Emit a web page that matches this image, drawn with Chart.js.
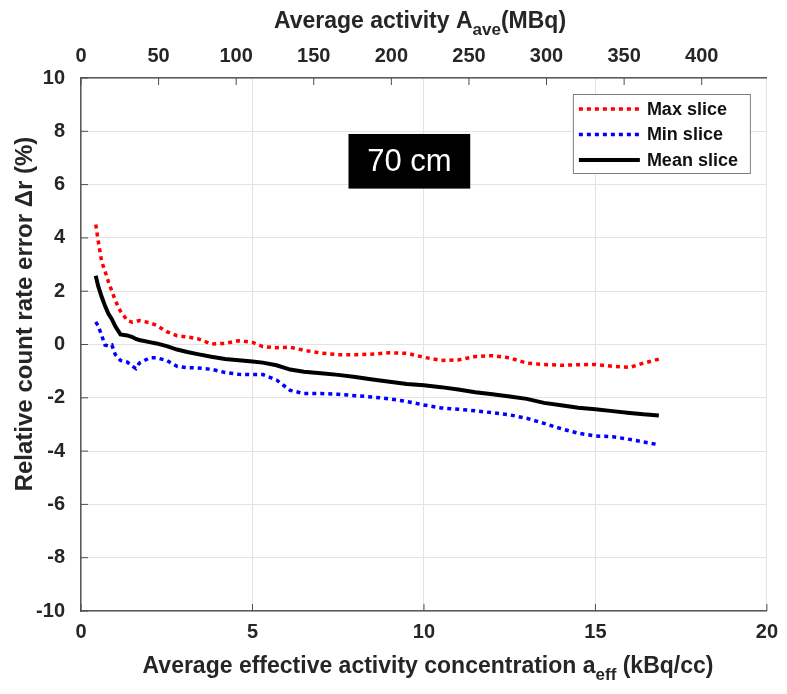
<!DOCTYPE html>
<html>
<head>
<meta charset="utf-8">
<script src="https://cdn.jsdelivr.net/npm/chart.js@4/dist/chart.umd.min.js"></script>
<style>
  html, body { margin: 0; padding: 0; background: #fff; }
  #wrap { width: 787px; height: 694px; }
</style>
</head>
<body>
<div id="wrap"><canvas id="rateChart"></canvas></div>
<script>
// concentration a_eff (kBq/cc)
const concValues = [0.43, 0.5, 0.6, 0.7, 0.8, 0.9, 1.0, 1.15, 1.35, 1.5, 1.6, 1.7, 2.0, 2.2, 2.5, 2.8, 3.1, 3.4, 3.8, 4.2, 4.6, 5.0, 5.3, 5.7, 6.1, 6.5, 7.0, 7.5, 8.0, 8.5, 9.0, 9.5, 10.0, 10.5, 11.0, 11.5, 12.0, 12.5, 13.0, 13.5, 14.0, 14.5, 15.0, 15.5, 16.0, 16.4, 16.85];
const maxSlice = [4.5, 3.9, 3.13, 2.75, 2.35, 2.0, 1.65, 1.25, 0.9, 0.84, 0.86, 0.9, 0.82, 0.72, 0.48, 0.33, 0.28, 0.22, 0.02, 0.04, 0.14, 0.08, -0.08, -0.12, -0.1, -0.22, -0.32, -0.38, -0.38, -0.36, -0.31, -0.33, -0.48, -0.6, -0.58, -0.45, -0.42, -0.5, -0.7, -0.75, -0.78, -0.76, -0.75, -0.82, -0.86, -0.7, -0.55];
const minSlice = [0.85, 0.7, 0.35, -0.02, -0.06, -0.02, -0.38, -0.6, -0.66, -0.82, -0.9, -0.7, -0.5, -0.5, -0.6, -0.82, -0.87, -0.88, -0.93, -1.05, -1.12, -1.13, -1.13, -1.33, -1.72, -1.84, -1.84, -1.87, -1.92, -1.97, -2.04, -2.14, -2.27, -2.38, -2.43, -2.49, -2.56, -2.64, -2.77, -2.96, -3.16, -3.33, -3.43, -3.46, -3.56, -3.66, -3.76];
const meanSlice = [2.58, 2.2, 1.8, 1.45, 1.15, 0.95, 0.68, 0.38, 0.34, 0.28, 0.21, 0.17, 0.09, 0.04, -0.06, -0.19, -0.28, -0.36, -0.46, -0.54, -0.59, -0.64, -0.68, -0.78, -0.94, -1.02, -1.08, -1.14, -1.22, -1.31, -1.4, -1.48, -1.53, -1.6, -1.69, -1.79, -1.87, -1.95, -2.04, -2.19, -2.28, -2.37, -2.43, -2.5, -2.57, -2.62, -2.66];

const seriesNames = ['Max slice', 'Min slice', 'Mean slice'];
const boxLabel = '70 cm';
const boxRange = { x0: 7.8, x1: 11.35, y0: 5.85, y1: 7.9 };

const textColor = '#262626';
const fontFamily = '"Liberation Sans", Arial, sans-serif';

function toPoints(ys) {
    return concValues.map((x, i) => ({ x: x, y: ys[i] }));
}

// draws "main" + subscript + "rest", centered at cx
function subTitle(ctx, main, sub, rest, cx, cy, size, angle) {
    ctx.save();
    ctx.translate(cx, cy);
    if (angle) ctx.rotate(angle);
    const big = 'bold ' + size + 'px ' + fontFamily;
    const small = 'bold ' + Math.round(size * 0.72) + 'px ' + fontFamily;
    ctx.font = big;
    const w1 = ctx.measureText(main).width;
    const w3 = ctx.measureText(rest).width;
    ctx.font = small;
    const w2 = ctx.measureText(sub).width;
    let x = -(w1 + w2 + w3) / 2;
    ctx.fillStyle = textColor;
    ctx.textBaseline = 'middle';
    ctx.textAlign = 'left';
    ctx.font = big;
    ctx.fillText(main, x, 0);
    x += w1;
    ctx.font = small;
    ctx.fillText(sub, x, size * 0.38);
    x += w2;
    ctx.font = big;
    ctx.fillText(rest, x, 0);
    ctx.restore();
}

const decorations = {
    id: 'decorations',
    afterDraw(chart) {
        const ctx = chart.ctx;
        const area = chart.chartArea;
        const xs = chart.scales.x, ys = chart.scales.y, xt = chart.scales.xTop;

        // inward ticks
        ctx.save();
        ctx.strokeStyle = '#4d4d4d';
        ctx.lineWidth = 1;
        ctx.beginPath();
        ys.ticks.forEach(t => {
            const p = ys.getPixelForValue(t.value);
            ctx.moveTo(area.left, p); ctx.lineTo(area.left + 7, p);
        });
        xs.ticks.forEach(t => {
            const p = xs.getPixelForValue(t.value);
            ctx.moveTo(p, area.bottom); ctx.lineTo(p, area.bottom - 7);
        });
        xt.ticks.forEach(t => {
            const p = xt.getPixelForValue(t.value);
            ctx.moveTo(p, area.top); ctx.lineTo(p, area.top + 7);
        });
        ctx.stroke();
        ctx.restore();

        // "70 cm" label box
        const bx0 = xs.getPixelForValue(boxRange.x0), bx1 = xs.getPixelForValue(boxRange.x1);
        const by0 = ys.getPixelForValue(boxRange.y1), by1 = ys.getPixelForValue(boxRange.y0);
        ctx.save();
        ctx.fillStyle = '#000';
        ctx.fillRect(bx0, by0, bx1 - bx0, by1 - by0);
        ctx.fillStyle = '#fff';
        ctx.font = '31px ' + fontFamily;
        ctx.textAlign = 'center';
        ctx.textBaseline = 'middle';
        ctx.fillText(boxLabel, (bx0 + bx1) / 2, (by0 + by1) / 2 + 1);
        ctx.restore();

        // legend
        const lx = area.right - 194, ly = area.top + 16, lw = 177, lh = 79;
        ctx.save();
        ctx.fillStyle = '#fff';
        ctx.fillRect(lx, ly, lw, lh);
        ctx.strokeStyle = '#7f7f7f';
        ctx.lineWidth = 1;
        ctx.strokeRect(lx + 0.5, ly + 0.5, lw, lh);
        ctx.font = 'bold 18px ' + fontFamily;
        ctx.textBaseline = 'middle';
        chart.data.datasets.forEach((ds, i) => {
            const yy = ly + 15 + i * 25.5;
            ctx.strokeStyle = ds.borderColor;
            ctx.lineWidth = ds.borderWidth;
            ctx.setLineDash(ds.borderDash || []);
            ctx.beginPath();
            ctx.moveTo(lx + 6, yy); ctx.lineTo(lx + 67, yy);
            ctx.stroke();
            ctx.setLineDash([]);
            ctx.fillStyle = '#111';
            ctx.fillText(ds.label, lx + 74, yy + 1);
        });
        ctx.restore();

        // axis titles
        subTitle(ctx, 'Average activity A', 'ave', '(MBq)', 420, 22, 23);
        subTitle(ctx, 'Average effective activity concentration a', 'eff', ' (kBq/cc)', 428, 667, 23);
        subTitle(ctx, 'Relative count rate error \u0394r (%)', '', '', 25, 314, 24, -Math.PI / 2);
    }
};

const tickFont = { family: fontFamily, size: 20, weight: 'bold' };

new Chart(document.getElementById('rateChart'), {
    type: 'line',
    data: {
        datasets: [{
            label: seriesNames[0],
            data: toPoints(maxSlice),
            borderColor: '#ff0000',
            borderWidth: 3.5,
            borderDash: [4, 4],
            pointRadius: 0,
            tension: 0
        }, {
            label: seriesNames[1],
            data: toPoints(minSlice),
            borderColor: '#0000ff',
            borderWidth: 3.5,
            borderDash: [4, 4],
            pointRadius: 0,
            tension: 0
        }, {
            label: seriesNames[2],
            data: toPoints(meanSlice),
            borderColor: '#000000',
            borderWidth: 4,
            pointRadius: 0,
            tension: 0
        }]
    },
    options: {
        responsive: true,
        maintainAspectRatio: false,
        animation: false,
        layout: { padding: { left: 0, right: 16, top: 0, bottom: 0 } },
        plugins: {
            legend: { display: false },
            tooltip: { enabled: false }
        },
        scales: {
            x: {
                type: 'linear',
                position: 'bottom',
                min: 0,
                max: 20,
                ticks: { stepSize: 5, padding: 9, color: textColor, font: tickFont },
                grid: { color: '#e3e3e3', lineWidth: 1, drawTicks: false },
                border: { color: '#5a5a5a', width: 1.5 },
                afterFit(scale) { scale.height = 83; }
            },
            xTop: {
                type: 'linear',
                position: 'top',
                min: 0,
                max: 442,
                ticks: { stepSize: 50, includeBounds: false, padding: 10, color: textColor, font: tickFont },
                grid: { display: false, drawTicks: false },
                border: { color: '#5a5a5a', width: 1.5 },
                afterFit(scale) { scale.height = 78; }
            },
            y: {
                min: -10,
                max: 10,
                ticks: { stepSize: 2, padding: 16, color: textColor, font: tickFont },
                grid: { color: '#e3e3e3', lineWidth: 1, drawTicks: false },
                border: { color: '#5a5a5a', width: 1.5 },
                afterFit(scale) { scale.width = 81; }
            }
        }
    },
    plugins: [decorations]
});
</script>
</body>
</html>
